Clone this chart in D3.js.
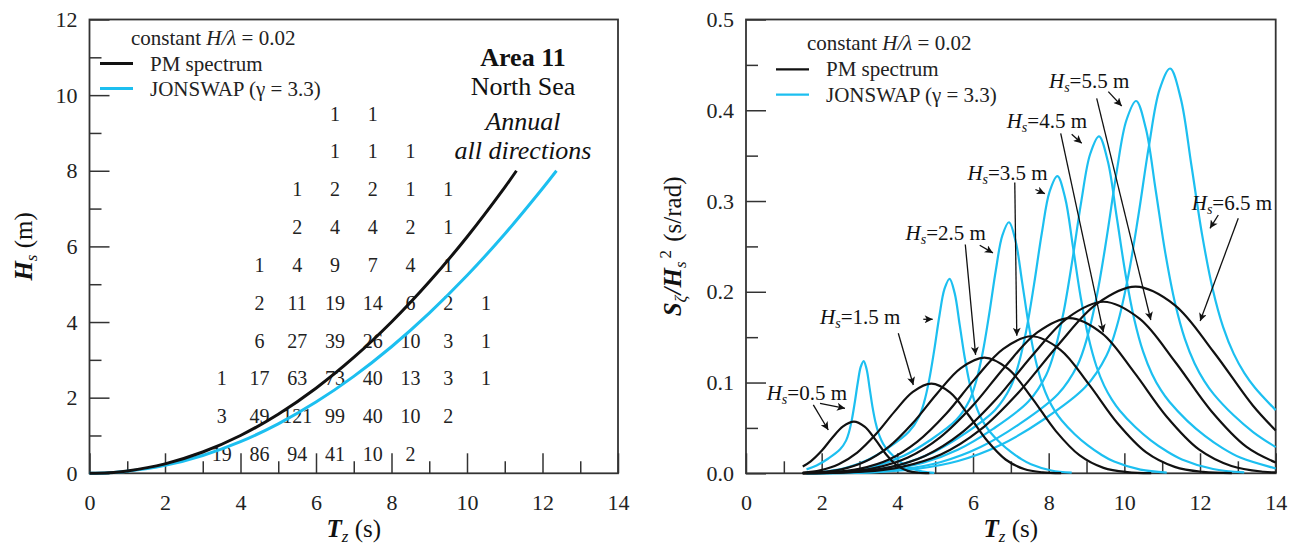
<!DOCTYPE html>
<html>
<head>
<meta charset="utf-8">
<script src="https://cdn.jsdelivr.net/npm/d3@7"></script>
<style>
  body { margin: 0; background: #fff; }
  svg { font-family: "Liberation Serif", "Times New Roman", serif; }
</style>
</head>
<body>
<script>
// ---- left panel data: scatter table + constant steepness curves ----
const tzBins = [3.5, 4.5, 5.5, 6.5, 7.5, 8.5, 9.5, 10.5];
const hsBins = [0.5, 1.5, 2.5, 3.5, 4.5, 5.5, 6.5, 7.5, 8.5, 9.5];
const counts = [
  [19, 86, 94, 41, 10, 2, null, null],
  [3, 49, 121, 99, 40, 10, 2, null],
  [1, 17, 63, 73, 40, 13, 3, 1],
  [null, 6, 27, 39, 26, 10, 3, 1],
  [null, 2, 11, 19, 14, 6, 2, 1],
  [null, 1, 4, 9, 7, 4, 1, null],
  [null, null, 2, 4, 4, 2, 1, null],
  [null, null, 1, 2, 2, 1, 1, null],
  [null, null, null, 1, 1, 1, null, null],
  [null, null, null, 1, 1, null, null, null],
];
const pmTz = [0, 0.5, 1, 2, 3, 4, 5, 6, 7, 8, 9, 10, 11, 11.31];
const pmHs = [0, 0.0156, 0.0625, 0.25, 0.5625, 1.0, 1.5625, 2.25, 3.0625, 4.0, 5.0625, 6.25, 7.5625, 8.0];
const jsTz = [0, 0.5, 1, 2, 3, 4, 5, 6, 7, 8, 9, 10, 11, 12, 12.37];
const jsHs = [0, 0.0131, 0.0523, 0.209, 0.471, 0.837, 1.308, 1.883, 2.563, 3.347, 4.236, 5.23, 6.328, 7.531, 8.0];

// ---- right panel data: normalised spectra [Tz, S/Hs^2] ----
const pmSpectra = [
  [[1.5,0.0075],[1.71,0.0132],[2.0,0.0248],[2.28,0.0391],[2.565,0.0517],[2.85,0.057],[3.135,0.0514],[3.42,0.0371],[3.705,0.0208],[3.99,0.0088],[4.275,0.0027],[4.56,0.0006],[4.845,0.0001]],
  [[1.5,0.0009],[1.96,0.0034],[2.45,0.0100],[2.94,0.0228],[3.43,0.0429],[3.92,0.0677],[4.41,0.0897],[4.9,0.0988],[5.39,0.0891],[5.88,0.0642],[6.37,0.0361],[6.86,0.0152],[7.35,0.0047],[7.84,0.0010],[8.33,0.0001]],
  [[1.5,0.0003],[1.89,0.0011],[2.52,0.0044],[3.15,0.0129],[3.78,0.0294],[4.41,0.0554],[5.04,0.0874],[5.67,0.1157],[6.3,0.1275],[6.93,0.1150],[7.56,0.0829],[8.19,0.0465],[8.82,0.0197],[9.45,0.0060],[10.08,0.0013],[10.71,0.0002]],
  [[1.5,0.0002],[2.27,0.0013],[3.02,0.0052],[3.78,0.0152],[4.53,0.0349],[5.29,0.0656],[6.04,0.1035],[6.8,0.1371],[7.55,0.151],[8.31,0.1361],[9.06,0.0982],[9.82,0.0551],[10.57,0.0233],[11.33,0.0071],[12.08,0.0015],[12.84,0.0002]],
  [[1.5,0.0001],[2.57,0.0014],[3.42,0.0059],[4.28,0.0173],[5.13,0.0395],[5.99,0.0743],[6.84,0.1172],[7.7,0.1552],[8.55,0.171],[9.41,0.1542],[10.26,0.1112],[11.12,0.0624],[11.97,0.0264],[12.83,0.0081],[13.68,0.0017],[14,0.001]],
  [[1.5,0.0001],[2.84,0.0016],[3.78,0.0065],[4.73,0.0191],[5.67,0.0436],[6.62,0.0821],[7.56,0.1296],[8.51,0.1716],[9.45,0.189],[10.4,0.1704],[11.34,0.1229],[12.29,0.069],[13.23,0.0291],[14,0.0119]],
  [[1.5,0.0001],[3.09,0.0017],[4.12,0.0071],[5.15,0.0207],[6.18,0.0475],[7.21,0.0894],[8.24,0.1409],[9.27,0.1866],[10.3,0.2056],[11.33,0.1854],[12.36,0.1337],[13.39,0.075],[14,0.0472]],
];
const jsSpectra = [
  [[1.6,0.0043],[1.866,0.0086],[2.177,0.0163],[2.488,0.0264],[2.644,0.036],[2.721,0.0452],[2.799,0.0594],[2.877,0.0786],[2.955,0.1],[3.032,0.1172],[3.11,0.1237],[3.188,0.1146],[3.266,0.0942],[3.343,0.0732],[3.421,0.0565],[3.499,0.0447],[3.577,0.0365],[3.654,0.0306],[3.732,0.0262],[3.888,0.0193],[4.043,0.0137],[4.199,0.0092],[4.354,0.0058],[4.665,0.0018],[4.976,0.0004]],
  [[1.614,0.0005],[2.152,0.0022],[2.69,0.0066],[3.228,0.015],[3.766,0.0282],[4.304,0.0457],[4.573,0.0624],[4.708,0.0784],[4.842,0.1029],[4.977,0.1362],[5.111,0.1733],[5.246,0.2031],[5.38,0.2143],[5.515,0.1985],[5.649,0.1632],[5.784,0.1268],[5.918,0.0979],[6.053,0.0774],[6.187,0.0632],[6.322,0.0531],[6.456,0.0453],[6.725,0.0334],[6.994,0.0238],[7.263,0.016],[7.532,0.01],[8.07,0.0031],[8.608,0.0007]],
  [[1.6,0.0002],[2.085,0.0007],[2.78,0.0029],[3.475,0.0085],[4.17,0.0193],[4.865,0.0364],[5.56,0.0589],[5.908,0.0805],[6.081,0.1012],[6.255,0.1328],[6.429,0.1758],[6.603,0.2237],[6.776,0.2621],[6.95,0.2766],[7.124,0.2562],[7.298,0.2107],[7.471,0.1636],[7.645,0.1263],[7.819,0.0999],[7.993,0.0816],[8.166,0.0685],[8.34,0.0585],[8.688,0.0431],[9.035,0.0307],[9.383,0.0207],[9.73,0.0129],[10.425,0.004],[11.12,0.0008]],
  [[1.6,0.0002],[2.469,0.0008],[3.292,0.0034],[4.115,0.01],[4.938,0.0229],[5.761,0.0431],[6.584,0.0698],[6.996,0.0953],[7.201,0.1198],[7.407,0.1572],[7.613,0.2081],[7.819,0.2648],[8.024,0.3103],[8.23,0.3274],[8.436,0.3032],[8.642,0.2494],[8.847,0.1937],[9.053,0.1495],[9.259,0.1182],[9.465,0.0966],[9.67,0.0811],[9.876,0.0692],[10.288,0.051],[10.699,0.0363],[11.111,0.0245],[11.522,0.0153],[12.345,0.0047],[13.168,0.001]],
  [[1.6,0.0002],[2.799,0.0009],[3.732,0.0039],[4.665,0.0113],[5.598,0.0259],[6.531,0.0489],[7.464,0.0791],[7.931,0.1081],[8.164,0.1358],[8.397,0.1782],[8.63,0.2359],[8.864,0.3002],[9.097,0.3518],[9.33,0.3712],[9.563,0.3438],[9.797,0.2827],[10.03,0.2196],[10.263,0.1695],[10.496,0.134],[10.73,0.1095],[10.963,0.0919],[11.196,0.0785],[11.663,0.0578],[12.129,0.0412],[12.596,0.0277],[13.062,0.0173],[14,0.0053]],
  [[1.6,0.0002],[3.093,0.001],[4.124,0.0043],[5.155,0.0125],[6.186,0.0287],[7.217,0.054],[8.248,0.0874],[8.764,0.1194],[9.021,0.1501],[9.279,0.197],[9.537,0.2607],[9.795,0.3318],[10.052,0.3887],[10.31,0.4102],[10.568,0.3799],[10.826,0.3124],[11.083,0.2426],[11.341,0.1873],[11.599,0.1481],[11.857,0.121],[12.114,0.1016],[12.372,0.0867],[12.888,0.0639],[13.403,0.0455],[14,0.0288]],
  [[1.6,0.0002],[3.363,0.0011],[4.484,0.0047],[5.605,0.0136],[6.726,0.0312],[7.847,0.0587],[8.968,0.095],[9.529,0.1298],[9.809,0.1631],[10.089,0.2142],[10.369,0.2835],[10.65,0.3607],[10.93,0.4227],[11.21,0.446],[11.49,0.4131],[11.771,0.3397],[12.051,0.2638],[12.331,0.2037],[12.611,0.1611],[12.892,0.1316],[13.172,0.1104],[13.452,0.0943],[14,0.0696]],
];
// Hs labels: text position and two arrows each [x1, y1, x2, y2]
const hsLabels = ["0.5", "1.5", "2.5", "3.5", "4.5", "5.5", "6.5"];
const labelPos = [[0.547,0.0808],[1.956,0.164],[4.216,0.2576],[5.851,0.3228],[6.89,0.3802],[8.008,0.4243],[11.78,0.2903]];
const arrows = [
  [1.956,0.0771,2.617,0.0716],[1.779,0.0753,2.175,0.0477],
  [4.686,0.1697,4.934,0.1697],[4.025,0.1543,4.422,0.0973],
  [6.177,0.2513,6.526,0.2428],[5.796,0.2521,6.068,0.1305],
  [7.649,0.3127,7.9,0.3081],[7.104,0.3204,7.157,0.1516],
  [8.608,0.3735,8.873,0.3636],[8.318,0.3746,9.446,0.1554],
  [9.576,0.4205,9.93,0.4047],[9.269,0.4132,10.699,0.1689],
  [12.483,0.2846,12.263,0.2699],[13.011,0.281,12.004,0.1677],
];

const BLUE = "#1cbff0";
const INK = "#111";
const AXIS = "#333";

const svg = d3.select("body").append("svg").attr("width", 1296).attr("height", 548);

svg.append("defs").append("marker")
  .attr("id", "ah")
  .attr("viewBox", "0 0 10 10")
  .attr("refX", 10).attr("refY", 5)
  .attr("markerWidth", 10).attr("markerHeight", 8)
  .attr("markerUnits", "userSpaceOnUse")
  .attr("orient", "auto")
  .append("path").attr("d", "M0,0 L10,5 L0,10 L2.5,5 z").attr("fill", INK);

// scales
const xL = d3.scaleLinear().domain([0, 14]).range([89.5, 618]);
const yL = d3.scaleLinear().domain([0, 12]).range([473.3, 19.5]);
const xR = d3.scaleLinear().domain([0, 14]).range([746, 1275.7]);
const yR = d3.scaleLinear().domain([0, 0.5]).range([473.3, 19.5]);

function axes(x, y, xMaj, xMin, yMaj, yMin, yFmt) {
  const g = svg.append("g");
  const y0 = y.range()[0];
  const x0 = x.range()[0];
  const style = (sel) => {
    sel.select(".domain").remove();
    sel.attr("font-family", null).attr("font-size", 22).attr("color", AXIS);
    sel.selectAll("line").attr("stroke-width", 1.5);
    sel.selectAll("text").attr("fill", "#222");
  };
  g.append("g").attr("transform", `translate(0,${y0})`)
    .call(d3.axisBottom(x).tickValues(xMaj).tickSize(-20).tickPadding(21).tickFormat(d3.format("d")))
    .call(style);
  g.append("g").attr("transform", `translate(0,${y0})`)
    .call(d3.axisBottom(x).tickValues(xMin).tickSize(-12).tickFormat(""))
    .call(style);
  g.append("g").attr("transform", `translate(${x0},0)`)
    .call(d3.axisLeft(y).tickValues(yMaj).tickSize(-20).tickPadding(12).tickFormat(yFmt))
    .call(style);
  g.append("g").attr("transform", `translate(${x0},0)`)
    .call(d3.axisLeft(y).tickValues(yMin).tickSize(-12).tickFormat(""))
    .call(style);
  g.append("rect")
    .attr("x", x0).attr("y", y.range()[1])
    .attr("width", x.range()[1] - x0).attr("height", y0 - y.range()[1])
    .attr("fill", "none").attr("stroke", AXIS).attr("stroke-width", 1.8);
}

axes(xL, yL, d3.range(0, 15, 2), d3.range(1, 14, 2), d3.range(0, 13, 2), d3.range(1, 12, 2), d3.format("d"));
axes(xR, yR, d3.range(0, 15, 2), d3.range(1, 14, 2),
  [0, 0.1, 0.2, 0.3, 0.4, 0.5], [0.05, 0.15, 0.25, 0.35, 0.45], d3.format(".1f"));

// ---- left panel ----
const cells = [];
counts.forEach((row, i) => row.forEach((v, j) => {
  if (v !== null) cells.push({ tz: tzBins[j], hs: hsBins[i], v });
}));
svg.append("g").selectAll("text").data(cells).enter().append("text")
  .attr("x", (d) => xL(d.tz))
  .attr("y", (d) => yL(d.hs))
  .attr("dy", "0.33em")
  .attr("text-anchor", "middle")
  .attr("font-size", 20)
  .attr("fill", "#222")
  .text((d) => d.v);

const lineL = d3.line().x((d) => xL(d[0])).y((d) => yL(d[1])).curve(d3.curveCatmullRom);
svg.append("path").datum(jsTz.map((t, i) => [t, jsHs[i]]))
  .attr("d", lineL).attr("fill", "none").attr("stroke", BLUE).attr("stroke-width", 3);
svg.append("path").datum(pmTz.map((t, i) => [t, pmHs[i]]))
  .attr("d", lineL).attr("fill", "none").attr("stroke", INK).attr("stroke-width", 3);

function legend(x0, yConst, y1, y2, lineW) {
  const t = svg.append("text").attr("x", x0 + 31).attr("y", yConst).attr("font-size", 21).attr("fill", "#222");
  t.append("tspan").text("constant ");
  t.append("tspan").attr("font-style", "italic").text("H/λ");
  t.append("tspan").text(" = 0.02");
  [[y1, INK, "PM spectrum"], [y2, BLUE, "JONSWAP (γ = 3.3)"]].forEach(([yy, c, s]) => {
    svg.append("line").attr("x1", x0).attr("x2", x0 + 33).attr("y1", yy).attr("y2", yy)
      .attr("stroke", c).attr("stroke-width", lineW);
    svg.append("text").attr("x", x0 + 50).attr("y", yy + 7).attr("font-size", 21).attr("fill", "#222").text(s);
  });
}
legend(100, 45, 63.5, 88.5, 3);
legend(776, 50, 69.3, 94.7, 2.2);

const area = [["Area 11", 66, "bold", "normal"], ["North Sea", 95, "normal", "normal"],
  ["Annual", 130, "normal", "italic"], ["all directions", 159, "normal", "italic"]];
svg.append("g").selectAll("text").data(area).enter().append("text")
  .attr("x", 523).attr("y", (d) => d[1])
  .attr("text-anchor", "middle").attr("font-size", 26).attr("fill", "#111")
  .attr("font-weight", (d) => d[2]).attr("font-style", (d) => d[3])
  .text((d) => d[0]);

// ---- right panel ----
const lineR = d3.line().x((d) => xR(d[0])).y((d) => yR(d[1])).curve(d3.curveCatmullRom);
svg.append("g").selectAll("path").data(jsSpectra).enter().append("path")
  .attr("d", lineR).attr("fill", "none").attr("stroke", BLUE).attr("stroke-width", 2.2);
svg.append("g").selectAll("path").data(pmSpectra).enter().append("path")
  .attr("d", lineR).attr("fill", "none").attr("stroke", INK).attr("stroke-width", 2.2);

svg.append("g").selectAll("line").data(arrows).enter().append("line")
  .attr("x1", (d) => xR(d[0])).attr("y1", (d) => yR(d[1]))
  .attr("x2", (d) => xR(d[2])).attr("y2", (d) => yR(d[3]))
  .attr("stroke", INK).attr("stroke-width", 1.3)
  .attr("marker-end", "url(#ah)");

hsLabels.forEach((h, i) => {
  const t = svg.append("text")
    .attr("x", xR(labelPos[i][0])).attr("y", yR(labelPos[i][1]))
    .attr("font-size", 21).attr("fill", "#111");
  t.append("tspan").attr("font-style", "italic").text("H");
  t.append("tspan").attr("font-style", "italic").attr("font-size", 14).attr("dy", 4).text("s");
  t.append("tspan").attr("dy", -4).text("=" + h + " m");
});

// ---- axis titles ----
function xTitle(cx) {
  const t = svg.append("text").attr("x", cx).attr("y", 537).attr("text-anchor", "middle")
    .attr("font-size", 25).attr("fill", "#111");
  t.append("tspan").attr("font-weight", "bold").attr("font-style", "italic").text("T");
  t.append("tspan").attr("font-style", "italic").attr("font-size", 17).attr("dy", 5).text("z");
  t.append("tspan").attr("dy", -5).text(" (s)");
}
xTitle((xL.range()[0] + xL.range()[1]) / 2);
xTitle((xR.range()[0] + xR.range()[1]) / 2);

const yt1 = svg.append("text")
  .attr("transform", `translate(31.5,${(yL.range()[0] + yL.range()[1]) / 2}) rotate(-90)`)
  .attr("text-anchor", "middle").attr("font-size", 25).attr("fill", "#111");
yt1.append("tspan").attr("font-weight", "bold").attr("font-style", "italic").text("H");
yt1.append("tspan").attr("font-style", "italic").attr("font-size", 17).attr("dy", 5).text("s");
yt1.append("tspan").attr("dy", -5).text(" (m)");

const yt2 = svg.append("text")
  .attr("transform", `translate(681,${(yR.range()[0] + yR.range()[1]) / 2}) rotate(-90)`)
  .attr("text-anchor", "middle").attr("font-size", 25).attr("fill", "#111");
yt2.append("tspan").attr("font-weight", "bold").attr("font-style", "italic").text("S");
yt2.append("tspan").attr("font-style", "italic").attr("font-size", 17).attr("dy", 5).text("ζ");
yt2.append("tspan").attr("font-weight", "bold").attr("font-style", "italic").attr("dy", -5).attr("dx", 1).text("/H");
yt2.append("tspan").attr("font-style", "italic").attr("font-size", 17).attr("dy", 5).text("s");
yt2.append("tspan").attr("font-size", 17).attr("dy", -15).attr("dx", 3).text("2");
yt2.append("tspan").attr("dy", 10).attr("dx", 2).text(" (s/rad)");
</script>
</body>
</html>
